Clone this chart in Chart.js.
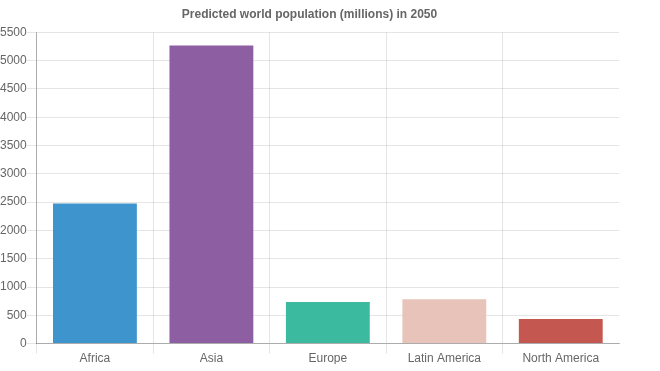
<!DOCTYPE html>
<html><head><meta charset="utf-8">
<script src="https://cdn.jsdelivr.net/npm/chart.js@4/dist/chart.umd.min.js"></script>
<style>html,body{margin:0;padding:0;background:#fff}#wrap{width:660px;height:371px}</style>
</head><body><div id="wrap"><canvas id="c"></canvas></div>
<script>
const categories = ["Africa", "Asia", "Europe", "Latin America", "North America"];
const population = [2478, 5267, 734, 784, 433];
const barColors = ["#3e95cd", "#8e5ea2", "#3cba9f", "#e8c3b9", "#c45850"];
const chartTitle = "Predicted world population (millions) in 2050";

Chart.defaults.font.family = "'Liberation Sans', Arial, Helvetica, sans-serif";
Chart.defaults.font.size = 12;
Chart.defaults.color = "#666";

new Chart(document.getElementById("c"), {
  type: "bar",
  data: {
    labels: categories,
    datasets: [{ label: "Population (millions)", data: population, backgroundColor: barColors, borderWidth: 0 }]
  },
  options: {
    responsive: true,
    maintainAspectRatio: false,
    animation: false,
    layout: { padding: { left: 0, right: 41, top: 0, bottom: 7 } },
    plugins: {
      legend: { display: false },
      tooltip: { enabled: false },
      title: { display: true, text: chartTitle, font: { size: 12, weight: "bold" }, color: "#666", padding: { top: 7, bottom: 11 } }
    },
    scales: {
      x: {
        grid: {
          offset: true, tickLength: 10,
          color: (ctx) => (ctx.type === "tick" ? "rgba(0,0,0,0.1)" : "rgba(0,0,0,0)")
        },
        border: { color: "rgba(0,0,0,0.25)" },
        ticks: { color: "#666", padding: -2 }
      },
      y: {
        min: 0, max: 5500,
        grid: { color: "rgba(0,0,0,0.1)", tickLength: 10 },
        border: { color: "rgba(0,0,0,0.25)" },
        ticks: { stepSize: 500, color: "#666", padding: 0, callback: (v) => String(v) }
      }
    }
  }
});
</script></body></html>
